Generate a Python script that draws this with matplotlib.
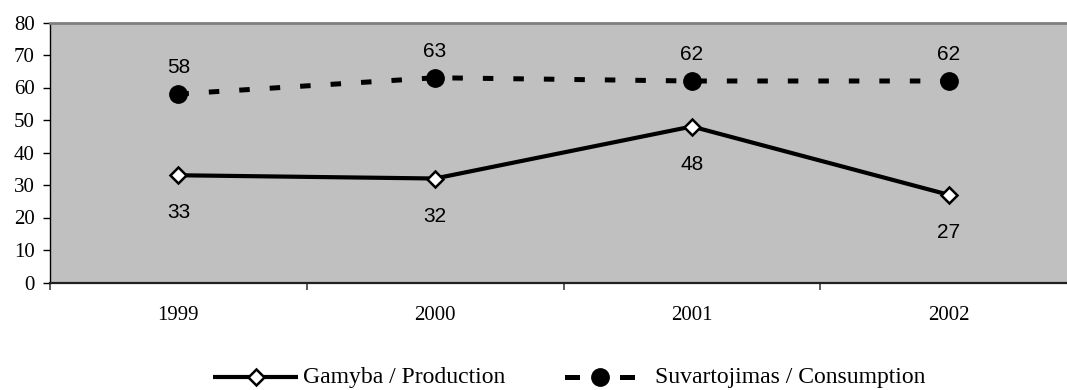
import matplotlib
matplotlib.use("Agg")
import matplotlib.pyplot as plt
from matplotlib.lines import Line2D

years = ["1999", "2000", "2001", "2002"]
production = [33, 32, 48, 27]
consumption = [58, 63, 62, 62]
y_ticks = [0, 10, 20, 30, 40, 50, 60, 70, 80]
series_names = ["Gamyba / Production", "Suvartojimas / Consumption"]

serif = ["Liberation Serif", "DejaVu Serif"]
sans = ["Liberation Sans", "DejaVu Sans"]

W, H = 1067, 390
fig = plt.figure(figsize=(W / 100, H / 100), dpi=100)
# plot area runs slightly past the right edge of the figure
ax = fig.add_axes([50 / W, 1 - 282.5 / H, 1027 / W, 260 / H])
ax.set_facecolor("#C0C0C0")

x = [i + 0.5 for i in range(len(years))]

cons_style = dict(color="black", lw=3.6, dash_capstyle="butt")
cons_marker = dict(marker="o", markersize=12.5, markerfacecolor="black",
                   markeredgecolor="black")
prod_style = dict(color="black", lw=3.0, solid_capstyle="butt")
prod_marker = dict(marker="D", markersize=8.5, markerfacecolor="white",
                   markeredgecolor="black", markeredgewidth=1.8)

ax.plot(x, consumption, dashes=(2.1, 4.0), zorder=3, **cons_style, **cons_marker)
ax.plot(x, production, zorder=4, **prod_style, **prod_marker)

for xi, v in zip(x, consumption):
    ax.annotate(str(v), (xi, v), xytext=(0, 19), textcoords="offset points",
                ha="center", va="center", fontsize=15, family=sans)
for xi, v in zip(x, production):
    ax.annotate(str(v), (xi, v), xytext=(0, -27), textcoords="offset points",
                ha="center", va="center", fontsize=15, family=sans)

ax.set_xlim(0, len(years))
ax.set_ylim(0, 80)
ax.set_yticks(y_ticks)
ax.set_yticklabels([str(t) for t in y_ticks], family=serif, fontsize=15)
ax.set_xticks(range(len(years) + 1))
ax.set_xticklabels([])
ax.set_xticks(x, minor=True)
ax.set_xticklabels(years, minor=True, family=serif, fontsize=15)
ax.tick_params(axis="x", which="minor", length=0, pad=17)
ax.tick_params(axis="x", which="major", length=5, width=1.2, color="#404040")
ax.tick_params(axis="y", length=5, width=1.0, pad=6)

ax.spines["top"].set_color("#808080")
ax.spines["top"].set_linewidth(2.0)
ax.spines["right"].set_visible(False)
ax.spines["left"].set_color("black")
ax.spines["left"].set_linewidth(1.0)
ax.spines["bottom"].set_color("#202020")
ax.spines["bottom"].set_linewidth(1.6)

# legend row below the chart, drawn in figure pixel coordinates
ly = 1 - 377 / H
def fx(px):
    return px / W

fig.add_artist(Line2D([fx(213), fx(298)], [ly, ly], transform=fig.transFigure,
                      **prod_style))
fig.add_artist(Line2D([fx(256)], [ly], transform=fig.transFigure, color="black",
                      linestyle="none", **prod_marker))
fig.text(fx(303), ly, series_names[0], ha="left", va="center",
         family=serif, fontsize=17)

for a, b in [(567, 577), (622, 632)]:
    fig.add_artist(Line2D([fx(a), fx(b)], [ly, ly], transform=fig.transFigure,
                          **cons_style))
fig.add_artist(Line2D([fx(600)], [ly], transform=fig.transFigure,
                      linestyle="none", **cons_marker))
fig.text(fx(655), ly, series_names[1], ha="left", va="center",
         family=serif, fontsize=17)

fig.savefig("out.png", dpi=100)
